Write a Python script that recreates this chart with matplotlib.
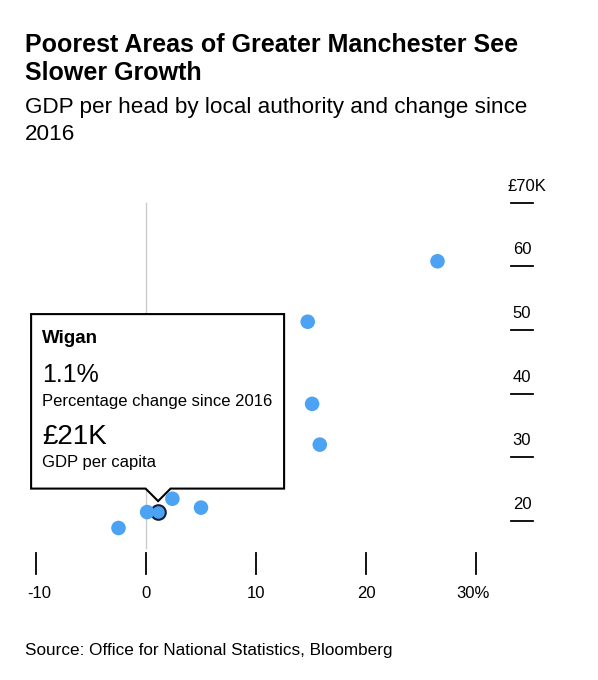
import matplotlib
matplotlib.use("Agg")
import matplotlib.pyplot as plt
from matplotlib.transforms import Affine2D, blended_transform_factory
from matplotlib.patches import Polygon
from matplotlib.lines import Line2D

plt.rcParams['font.family'] = ['Liberation Sans', 'DejaVu Sans']

# ---- data ----
change_pct = [26.5, 14.7, 15.1, 15.8, 2.4, 5.0, 0.1, -2.5]
gdp_k = [60.8, 51.3, 38.4, 32.0, 23.5, 22.1, 21.4, 18.9]
highlight_name = "Wigan"
highlight_change = 1.1
highlight_gdp = 21.4
x_ticks = [-10, 0, 10, 20, 30]
x_tick_labels = ["-10", "0", "10", "20", "30%"]
y_ticks = [20, 30, 40, 50, 60, 70]
y_tick_labels = ["20", "30", "40", "50", "60", "£70K"]

title_lines = ["Poorest Areas of Greater Manchester See", "Slower Growth"]
subtitle_lines = ["GDP per head by local authority and change since", "2016"]
source = "Source: Office for National Statistics, Bloomberg"

W, H = 598, 680
BLUE = "#4ca3f3"

fig = plt.figure(figsize=(W / 100, H / 100), dpi=100)
ax = fig.add_axes([0, 0, 1, 1])
ax.axis('off')

# calibration of the plotting scales (pixel positions of axis values)
x0px, x1px = 36.0, 476.0      # -10 and 30
y0px, y1px = 521.0, 202.7     # 20 and 70 (from top)
sx = (x1px - x0px) / 40.0
sy = (y0px - y1px) / 50.0
ax.set_xlim(-10 - x0px / sx, -10 + (W - x0px) / sx)
ax.set_ylim(20 - (H - y0px) / sy, 20 + y0px / sy)

# pixel transform (origin top-left)
P = Affine2D().scale(1, -1).translate(0, H)
xdata_ypx = blended_transform_factory(ax.transData, P)
xpx_ydata = blended_transform_factory(P, ax.transData)

# zero reference line
ax.add_line(Line2D([0, 0], [y1px, 548], transform=xdata_ypx,
                   color="#cccccc", lw=1, zorder=1))

# x ticks
for t, lab in zip(x_ticks, x_tick_labels):
    ax.add_line(Line2D([t, t], [553, 574], transform=xdata_ypx,
                       color="black", lw=1.3, zorder=2))
    dx = 3 if lab.startswith("-") else (-3 if lab.endswith("%") else 0)
    ax.annotate(lab, (t, 593), xycoords=xdata_ypx, xytext=(dx * 0.72, 0),
                textcoords='offset points', ha='center', va='center',
                fontsize=12, color="black")

# y ticks (right side)
for t, lab in zip(y_ticks, y_tick_labels):
    ax.add_line(Line2D([511, 533], [t, t], transform=xpx_ydata,
                       color="black", lw=1.3, zorder=2))
    dx = 5 if lab.startswith("£") else 0
    ax.annotate(lab, (522, t), xycoords=xpx_ydata, xytext=(dx * 0.72, 12),
                textcoords='offset points', ha='center', va='center',
                fontsize=12, color="black")

# points
ax.scatter([highlight_change], [highlight_gdp], s=110, color=BLUE,
           edgecolor="#14213d", linewidth=1.5, zorder=3)
ax.scatter(change_pct, gdp_k, s=110, color=BLUE, edgecolor='none', zorder=4)

# tooltip anchored to highlighted point
px_, py_ = ax.transData.transform((highlight_change, highlight_gdp))
tipx, tipy = px_, H - py_ - 11
left, right = tipx - 127, tipx + 126
bottom, top = tipy - 12.5, tipy - 187
poly = [(left, top), (right, top), (right, bottom), (tipx + 12.5, bottom),
        (tipx, tipy), (tipx - 12.5, bottom), (left, bottom)]
ax.add_patch(Polygon(poly, closed=True, transform=P, facecolor='white',
                     edgecolor='black', lw=1.5, zorder=2.5))
tx = left + 11
ax.text(tx, top + 24, highlight_name, transform=P, fontsize=13.5,
        fontweight='bold', va='center', ha='left', zorder=5)
ax.text(tx, top + 61, f"{highlight_change}%", transform=P, fontsize=18,
        va='center', ha='left', zorder=5)
ax.text(tx, top + 87, "Percentage change since 2016", transform=P,
        fontsize=12, va='center', ha='left', zorder=5)
ax.text(tx, top + 123, f"£{round(highlight_gdp)}K", transform=P, fontsize=20,
        va='center', ha='left', zorder=5)
ax.text(tx, top + 148, "GDP per capita", transform=P,
        fontsize=12, va='center', ha='left', zorder=5)

# titles
for line, base in zip(title_lines, [52, 80]):
    fig.text(25 / W, 1 - base / H, line, fontsize=18, fontweight='bold',
             ha='left', va='baseline')
for line, base in zip(subtitle_lines, [113, 140]):
    fig.text(25 / W, 1 - base / H, line, fontsize=16.2,
             ha='left', va='baseline')
fig.text(25 / W, 1 - 655 / H, source, fontsize=12.3, ha='left', va='baseline')

fig.savefig("out.png", dpi=100)
